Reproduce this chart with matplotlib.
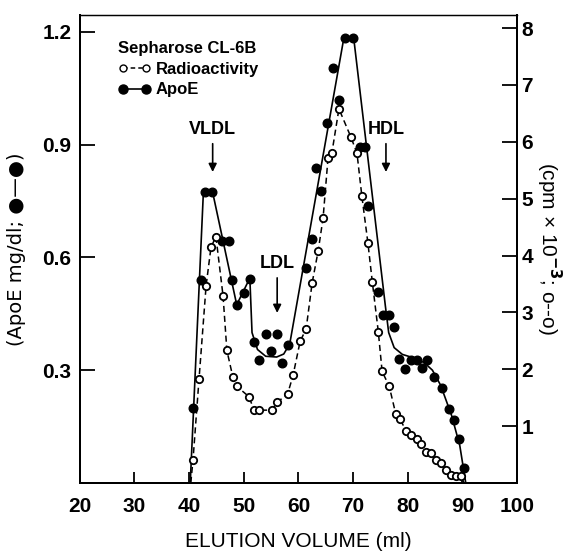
import numpy as np
import matplotlib
matplotlib.use("Agg")
from matplotlib import pyplot as plt

plt.rcParams['font.family'] = ['Liberation Sans', 'DejaVu Sans']
plt.rcParams['font.weight'] = 'bold'

# ApoE (mg/dl) - filled circles
apoe_x = [40.7, 42.2, 42.9, 44.2, 46.0, 47.3, 47.8, 48.7, 50.0, 51.1, 51.9, 52.8,
          54.1, 55.0, 56.1, 57.0, 58.1, 61.4, 62.5, 63.2, 64.2, 65.2, 66.3, 67.4,
          68.5, 70.0, 71.3, 72.2, 72.7, 74.6, 75.5, 76.6, 77.4, 78.4, 79.5, 80.6,
          81.6, 82.6, 83.6, 84.8, 86.3, 87.5, 88.4, 89.3, 90.3]
apoe_y = [0.20, 0.54, 0.773, 0.773, 0.645, 0.645, 0.54, 0.474, 0.506, 0.543, 0.376, 0.328,
          0.395, 0.352, 0.395, 0.32, 0.366, 0.572, 0.65, 0.837, 0.776, 0.958, 1.105, 1.02,
          1.184, 1.184, 0.895, 0.895, 0.736, 0.509, 0.448, 0.448, 0.416, 0.331, 0.302, 0.328,
          0.328, 0.305, 0.328, 0.283, 0.252, 0.196, 0.167, 0.117, 0.04]

# hand-drawn curve through the ApoE points
apoe_curve_x = [40.2, 42.6, 44.3, 48.7, 51.1, 51.5, 52.5, 54.0, 56.0, 57.3, 58.4,
                68.3, 70.1, 75.9, 76.5, 77.5, 79.0, 81.0, 83.0, 84.5, 86.0, 88.0, 89.5, 90.6]
apoe_curve_y = [0.0, 0.773, 0.773, 0.474, 0.545, 0.40, 0.355, 0.337, 0.335, 0.343, 0.37,
                1.184, 1.184, 0.47, 0.40, 0.36, 0.342, 0.333, 0.32, 0.30, 0.26, 0.18, 0.10, 0.0]

# Radioactivity (cpm x 10^-3) - open circles
radio_x = [40.7, 41.8, 43.1, 44.0, 44.9, 46.2, 46.9, 48.0, 48.7, 50.9, 51.9, 52.8,
           55.1, 56.1, 58.0, 59.0, 60.3, 61.4, 62.5, 63.6, 64.5, 65.4, 66.1, 67.4,
           69.6, 70.7, 71.6, 72.7, 73.5, 74.6, 75.3, 76.6, 77.8, 78.6, 79.7, 80.6,
           81.6, 82.5, 83.4, 84.3, 85.2, 86.1, 87.0, 87.9, 88.8, 89.7]
radio_y = [0.40, 1.82, 3.47, 4.15, 4.33, 3.29, 2.33, 1.86, 1.70, 1.52, 1.28, 1.28,
           1.28, 1.42, 1.56, 1.89, 2.49, 2.71, 3.52, 4.08, 4.66, 5.71, 5.80, 6.58,
           6.08, 5.80, 5.04, 4.22, 3.54, 2.66, 1.96, 1.70, 1.21, 1.12, 0.91, 0.84,
           0.77, 0.68, 0.55, 0.52, 0.40, 0.35, 0.22, 0.14, 0.12, 0.12]
radio_start = (40.3, 0.0)
radio_end = (90.3, 0.0)

fig = plt.figure(figsize=(5.87, 5.57), dpi=100)
ax = fig.add_axes([0.136, 0.133, 0.745, 0.84])
ax2 = ax.twinx()

ax.plot(apoe_curve_x, apoe_curve_y, '-', color='black', lw=1.2, zorder=3)
ax.plot(apoe_x, apoe_y, 'o', color='black', ms=6.2, zorder=4)

rx = [radio_start[0]] + radio_x + [radio_end[0]]
ry = [radio_start[1]] + radio_y + [radio_end[1]]
ax2.plot(rx, ry, '--', color='black', lw=1.1, dashes=(4, 2.5), zorder=3)
ax2.plot(radio_x, radio_y, 'o', mfc='white', mec='black', mew=1.3, ms=5.3, zorder=5)

ax.set_xlim(20, 100)
ax.set_ylim(0, 1.245)
ax2.set_ylim(0, 8.23)

fs = 15
ax.set_xticks(np.arange(20, 101, 10))
ax.set_yticks([0.3, 0.6, 0.9, 1.2])
ax.set_yticklabels(['0.3', '0.6', '0.9', '1.2'])
ax2.set_yticks(range(1, 9))
ax.tick_params(axis='x', direction='in', length=8, width=1.3, labelsize=fs, pad=10)
ax.tick_params(axis='y', direction='in', length=11, width=1.3, labelsize=fs, pad=6)
ax2.tick_params(axis='y', direction='in', length=11, width=1.3, labelsize=fs, pad=3)

for a in (ax, ax2):
    for s in a.spines.values():
        s.set_linewidth(1.4)
    a.spines['top'].set_linewidth(0.9)

ax.set_xlabel('ELUTION VOLUME (ml)', fontsize=fs, labelpad=12, fontweight='normal')
ax.set_ylabel('(ApoE mg/dl; \u25cf\u2014\u25cf)', fontsize=14, labelpad=12,
              family=['DejaVu Sans'], fontweight='normal')
ax2.set_ylabel('(cpm \u00d7 10$^{-3}$; o--o)', fontsize=fs, rotation=270, labelpad=22,
               fontweight='normal')

# fraction markers
arrow = dict(arrowstyle='-|>', color='black', lw=1.2, mutation_scale=12)
ax.annotate('VLDL', xy=(44.3, 0.82), xytext=(44.3, 0.94), ha='center', va='center',
            fontsize=13, arrowprops=arrow)
ax.annotate('LDL', xy=(56.1, 0.445), xytext=(56.1, 0.583), ha='center', va='center',
            fontsize=13, arrowprops=arrow)
ax.annotate('HDL', xy=(76.0, 0.82), xytext=(76.0, 0.94), ha='center', va='center',
            fontsize=13, arrowprops=arrow)

# legend
h1, = ax.plot([], [], '--', color='black', lw=1.1, dashes=(3, 2), marker='o',
              mfc='white', mec='black', ms=5)
h2, = ax.plot([], [], '-', color='black', lw=1.2, marker='o', ms=6.5)
leg = ax.legend([h1, h2], ['Radioactivity', 'ApoE'], title='Sepharose CL-6B',
                loc='upper left', bbox_to_anchor=(0.06, 0.97), frameon=False,
                prop={'size': 12, 'weight': 'bold'}, title_fontproperties={'size': 12, 'weight': 'bold'},
                handlelength=2.0, handletextpad=0.3,
                labelspacing=0.35, borderpad=0.2, numpoints=2)
leg._legend_box.align = 'left'

fig.savefig('out.png', dpi=100)
